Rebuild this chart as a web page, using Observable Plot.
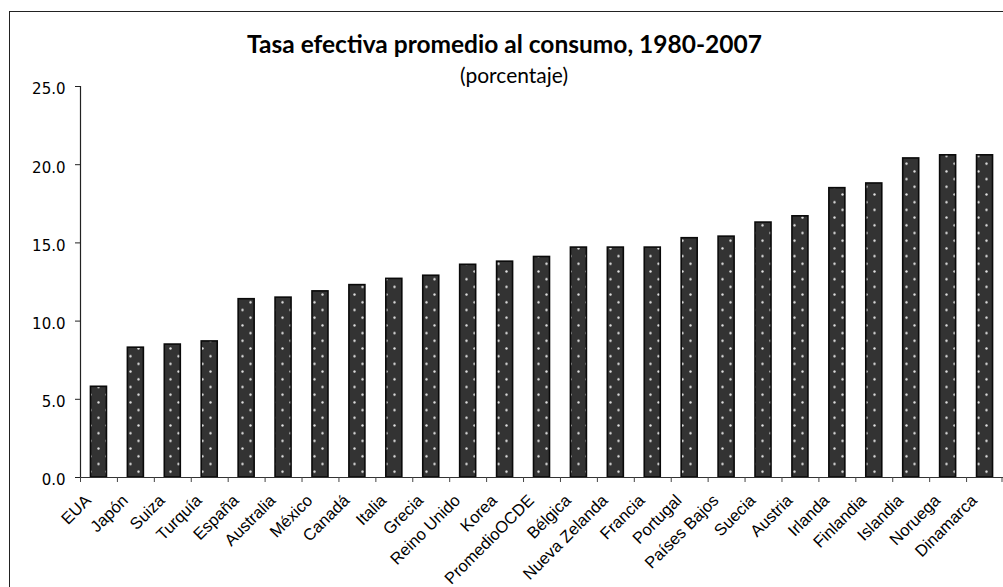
<!DOCTYPE html>
<html><head><meta charset="utf-8">
<script src="https://cdn.jsdelivr.net/npm/d3@7"></script>
<script src="https://cdn.jsdelivr.net/npm/@observablehq/plot@0.6"></script>
<style>
html,body{margin:0;background:#fff;overflow:hidden;}
#wrap{position:relative;width:1003px;height:587px;overflow:hidden;background:#fff;}
#frame{position:absolute;left:9px;top:11px;width:1100px;height:700px;border-left:1.6px solid #222;border-top:1.6px solid #222;box-sizing:border-box;}
.t{position:absolute;white-space:nowrap;transform:translateX(-50%);color:#000;line-height:1;}
#chart{position:absolute;left:0;top:66px;}
</style></head>
<body><div id="wrap"><div id="frame"></div><div id="chart"></div><div id="title" class="t"></div><div id="sub" class="t"></div></div>
<script>
const categories = ["EUA","Japón","Suiza","Turquía","España","Australia","México","Canadá","Italia","Grecia","Reino Unido","Korea","PromedioOCDE","Bélgica","Nueva Zelanda","Francia","Portugal","Países Bajos","Suecia","Austria","Irlanda","Finlandia","Islandia","Noruega","Dinamarca"];
const values = [5.8,8.3,8.5,8.7,11.4,11.5,11.9,12.3,12.7,12.9,13.6,13.8,14.1,14.7,14.7,14.7,15.3,15.4,16.3,16.7,18.5,18.8,20.4,20.6,20.6];
const yTicks = [0,5,10,15,20,25];
const titleText = "Tasa efectiva promedio al consumo, 1980-2007";
const subtitleText = "(porcentaje)";

// title & subtitle (fit widths)
const ctx = document.createElement("canvas").getContext("2d");
function fitSize(text, weight, family, target){ ctx.font = `${weight} 100px ${family}`; return 100*target/ctx.measureText(text).width; }
function place(el, text, weight, family, targetW, cx, baseline){
  const fs = fitSize(text, weight, family, targetW);
  el.textContent = text;
  el.style.fontFamily = family; el.style.fontWeight = weight; el.style.fontSize = fs+"px";
  el.style.left = cx+"px"; el.style.top = (baseline - 0.887*fs)+"px";
}
place(document.getElementById("title"), titleText, "bold", "Lato", 515, 504.5, 54);
place(document.getElementById("sub"), subtitleText, "normal", "Lato", 108, 514, 83);

const data = categories.map((c,i)=>({c, v: values[i]}));
const W = 1003, H = 587-66, mL = 80, mR = 0, mT = 20, mB = 110;
const step = (W - mL - mR)/categories.length;
const barW = 16;
const plotH = H - mT - mB;
const tickLen = 5*25/plotH;

const plot = Plot.plot({
  width: W, height: H, marginLeft: mL, marginRight: mR, marginTop: mT, marginBottom: mB,
  style: {background:"transparent", overflow:"hidden", fontFamily:"DejaVu Sans", fontSize:"15px", color:"#000"},
  x: {domain: categories, padding: 0, round: false, axis: null},
  y: {domain: [0,25], axis: null},
  marks: [
    Plot.barY(data, {x:"c", y:"v", insetLeft:(step-barW)/2, insetRight:(step-barW)/2, fill:"url(#dotpat)", stroke:"#0a0a0a", strokeWidth:1.6}),
    Plot.ruleY([0], {stroke:"#333", strokeWidth:1.2}),
    Plot.ruleX([categories[0]], {y1:0, y2:25, dx:-step/2, stroke:"#222", strokeWidth:1.2}),
    Plot.ruleX(categories, {x:d=>d, y1:0, y2:-tickLen, dx:-step/2, stroke:"#444"}),
    Plot.ruleX([categories[categories.length-1]], {y1:0, y2:-tickLen, dx:step/2-1.5, stroke:"#444"}),
    Plot.tickY(yTicks, {y:d=>d, x:()=>categories[0], insetLeft:-5, insetRight:step, stroke:"#222"}),
    Plot.text(yTicks, {y:d=>d, text:d=>d.toFixed(1), frameAnchor:"left", textAnchor:"end", dx:-15, dy:3, fontSize:15, fontFamily:"DejaVu Sans", fill:"#000"}),
    Plot.text(categories, {x:d=>d, text:d=>d, frameAnchor:"bottom", rotate:-45, textAnchor:"end", dx:-7, dy:24, fontSize:16.5, fontFamily:"Liberation Sans", fill:"#000"})
  ]
});
const ns = "http://www.w3.org/2000/svg";
const defs = document.createElementNS(ns, "defs");
defs.innerHTML = `<pattern id="dotpat" patternUnits="userSpaceOnUse" width="16" height="15.4"><rect width="16" height="15.4" fill="#333"/><circle cx="2.5" cy="13" r="1.2" fill="#e2e2e2"/><circle cx="10.5" cy="5.3" r="1.2" fill="#e2e2e2"/></pattern>`;
plot.insertBefore(defs, plot.firstChild);
document.getElementById("chart").appendChild(plot);
</script>
</body></html>
